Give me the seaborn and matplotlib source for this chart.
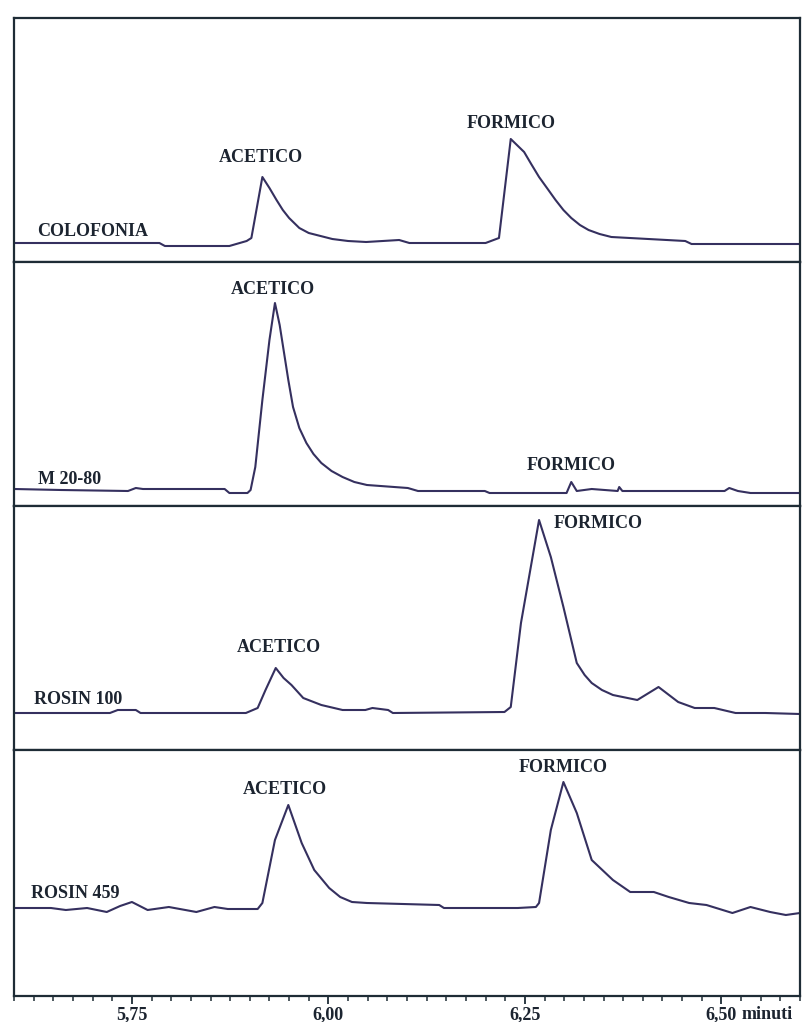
import numpy as np
import pandas as pd
import matplotlib
matplotlib.use("Agg")
import matplotlib.pyplot as plt
import seaborn as sns
from matplotlib.ticker import MultipleLocator

# ---------------- data (retention time in minutes, detector signal, arbitrary units) -------------
colofonia_t = [5.600, 5.785, 5.792, 5.874, 5.896, 5.902, 5.916, 5.925, 5.934, 5.942, 5.950, 5.963,
               5.975, 5.985, 6.005, 6.025, 6.048, 6.090, 6.103, 6.200, 6.217, 6.232, 6.249, 6.258,
               6.268, 6.279, 6.289, 6.299, 6.309, 6.320, 6.331, 6.345, 6.360, 6.407, 6.454, 6.462,
               6.600]
colofonia_s = [0, 0, -3, -3, 2, 5, 66, 55, 43, 33, 25, 15,
               10, 8, 4, 2, 1, 3, 0, 0, 5, 104, 91, 79,
               66, 54, 43, 33, 25, 18, 13, 9, 6, 4, 2, -1,
               -1]

m2080_t = [5.600, 5.660, 5.745, 5.755, 5.764, 5.868, 5.874, 5.897, 5.901, 5.907, 5.916, 5.925,
           5.932, 5.938, 5.943, 5.949, 5.955, 5.963, 5.972, 5.981, 5.991, 6.004, 6.018, 6.033,
           6.049, 6.101, 6.114, 6.199, 6.205, 6.303, 6.309, 6.316, 6.335, 6.368, 6.370, 6.374,
           6.504, 6.510, 6.521, 6.537, 6.600]
m2080_s = [1, 0, -1, 2, 1, 1, -3, -3, 0, 23, 90, 150,
           187, 165, 140, 110, 83, 62, 47, 36, 27, 19, 13, 8,
           5, 2, -1, -1, -3, -3, 8, -1, 1, -1, 3, -1,
           -1, 2, -1, -3, -3]

rosin100_t = [5.600, 5.722, 5.732, 5.755, 5.761, 5.895, 5.910, 5.920, 5.933, 5.943, 5.953, 5.968,
              5.991, 6.018, 6.047, 6.056, 6.076, 6.082, 6.224, 6.232, 6.245, 6.268, 6.283, 6.299,
              6.316, 6.326, 6.335, 6.348, 6.362, 6.393, 6.420, 6.445, 6.466, 6.491, 6.518, 6.556,
              6.600]
rosin100_s = [0, 0, 3, 3, 0, 0, 5, 23, 45, 35, 28, 15,
              8, 3, 3, 5, 3, 0, 1, 6, 90, 193, 156, 106,
              50, 38, 30, 23, 18, 13, 26, 11, 5, 5, 0, 0,
              -1]

rosin459_t = [5.600, 5.647, 5.666, 5.693, 5.718, 5.735, 5.750, 5.770, 5.797, 5.832, 5.855, 5.872,
              5.910, 5.916, 5.932, 5.949, 5.966, 5.982, 6.001, 6.015, 6.030, 6.049, 6.141, 6.147,
              6.241, 6.264, 6.268, 6.283, 6.299, 6.316, 6.335, 6.362, 6.384, 6.414, 6.433, 6.459,
              6.481, 6.514, 6.537, 6.562, 6.582, 6.600]
rosin459_s = [0, 0, -2, 0, -4, 2, 6, -2, 1, -4, 1, -1,
              -1, 5, 68, 103, 65, 38, 20, 11, 6, 5, 3, 0,
              0, 1, 5, 78, 126, 95, 48, 28, 16, 16, 11, 5,
              3, -5, 1, -4, -7, -5]

sample_names = ["COLOFONIA", "M 20-80", "ROSIN 100", "ROSIN 459"]
peak_names = ["ACETICO", "FORMICO"]
tick_values = [5.75, 6.00, 6.25, 6.50]
tick_labels = ["5,75", "6,00", "6,25", "6,50"]
x_unit = "minuti"

traces = [(colofonia_t, colofonia_s), (m2080_t, m2080_s),
          (rosin100_t, rosin100_s), (rosin459_t, rosin459_s)]

# ---------------- styling / layout -------------
sns.set_theme(style="white")
plt.rcParams["font.family"] = ["Liberation Serif", "DejaVu Serif"]

line_col = "#35305f"
frame_col = "#1e2c36"
text_col = "#1c2430"
fs = 13
fw = "bold"

ylims = [(-19, 225), (-16, 228), (-37, 207), (-88, 158)]

# label placements (time, signal, ha) for each panel
sample_pos = [(5.630, 11, "left"), (5.630, 11, "left"), (5.626, 13, "left"), (5.622, 15, "left")]
acetico_pos = [(5.914, 86, "center"), (5.929, 200, "center"), (5.937, 65, "center"), (5.945, 118, "center")]
formico_pos = [(6.232, 120, "center"), (6.309, 25, "center"), (6.287, 190, "left"), (6.299, 141, "center")]

fig = plt.figure(figsize=(8.02, 10.22), dpi=100)
top = 1 - 18 / 1022
bottom = 1 - 996 / 1022
gs = fig.add_gridspec(4, 1, left=14 / 802, right=800 / 802, top=top, bottom=bottom,
                      hspace=0, height_ratios=[244, 244, 244, 246])

axes = []
for i, (t, s) in enumerate(traces):
    ax = fig.add_subplot(gs[i])
    df = pd.DataFrame({"tempo": t, "segnale": s})
    sns.lineplot(data=df, x="tempo", y="segnale", ax=ax, color=line_col, linewidth=1.5,
                 estimator=None, sort=False)
    ax.set_xlim(5.6, 6.6)
    ax.set_ylim(*ylims[i])
    ax.set_xlabel("")
    ax.set_ylabel("")
    ax.set_yticks([])
    for sp in ax.spines.values():
        sp.set_visible(True)
        sp.set_color(frame_col)
        sp.set_linewidth(1.6)
    tx, ty, ha = sample_pos[i]
    ax.text(tx, ty, sample_names[i], ha=ha, va="center", fontsize=fs, color=text_col, fontweight=fw)
    tx, ty, ha = acetico_pos[i]
    ax.text(tx, ty, peak_names[0], ha=ha, va="center", fontsize=fs, color=text_col, fontweight=fw)
    tx, ty, ha = formico_pos[i]
    ax.text(tx, ty, peak_names[1], ha=ha, va="center", fontsize=fs, color=text_col, fontweight=fw)
    if i < 3:
        ax.set_xticks([])
        ax.tick_params(axis="x", which="both", bottom=False, labelbottom=False)
    axes.append(ax)

ax = axes[-1]
ax.set_xticks(tick_values, tick_labels)
ax.xaxis.set_minor_locator(MultipleLocator(0.025))
ax.tick_params(axis="x", which="major", direction="out", length=6, width=1.3,
               color=frame_col, labelsize=fs, labelcolor=text_col, pad=1.5, bottom=True)
ax.tick_params(axis="x", which="minor", direction="out", length=3.5, width=1.1,
               color=frame_col, bottom=True)
for lab in ax.get_xticklabels():
    lab.set_fontweight(fw)
ax.annotate(x_unit, xy=(6.50, 0), xycoords=ax.get_xaxis_transform(),
            xytext=(14.5, -7.5), textcoords="offset points", ha="left", va="top",
            fontsize=fs, color=text_col, fontweight=fw, annotation_clip=False)

fig.savefig("out.png", dpi=100, facecolor="white")
